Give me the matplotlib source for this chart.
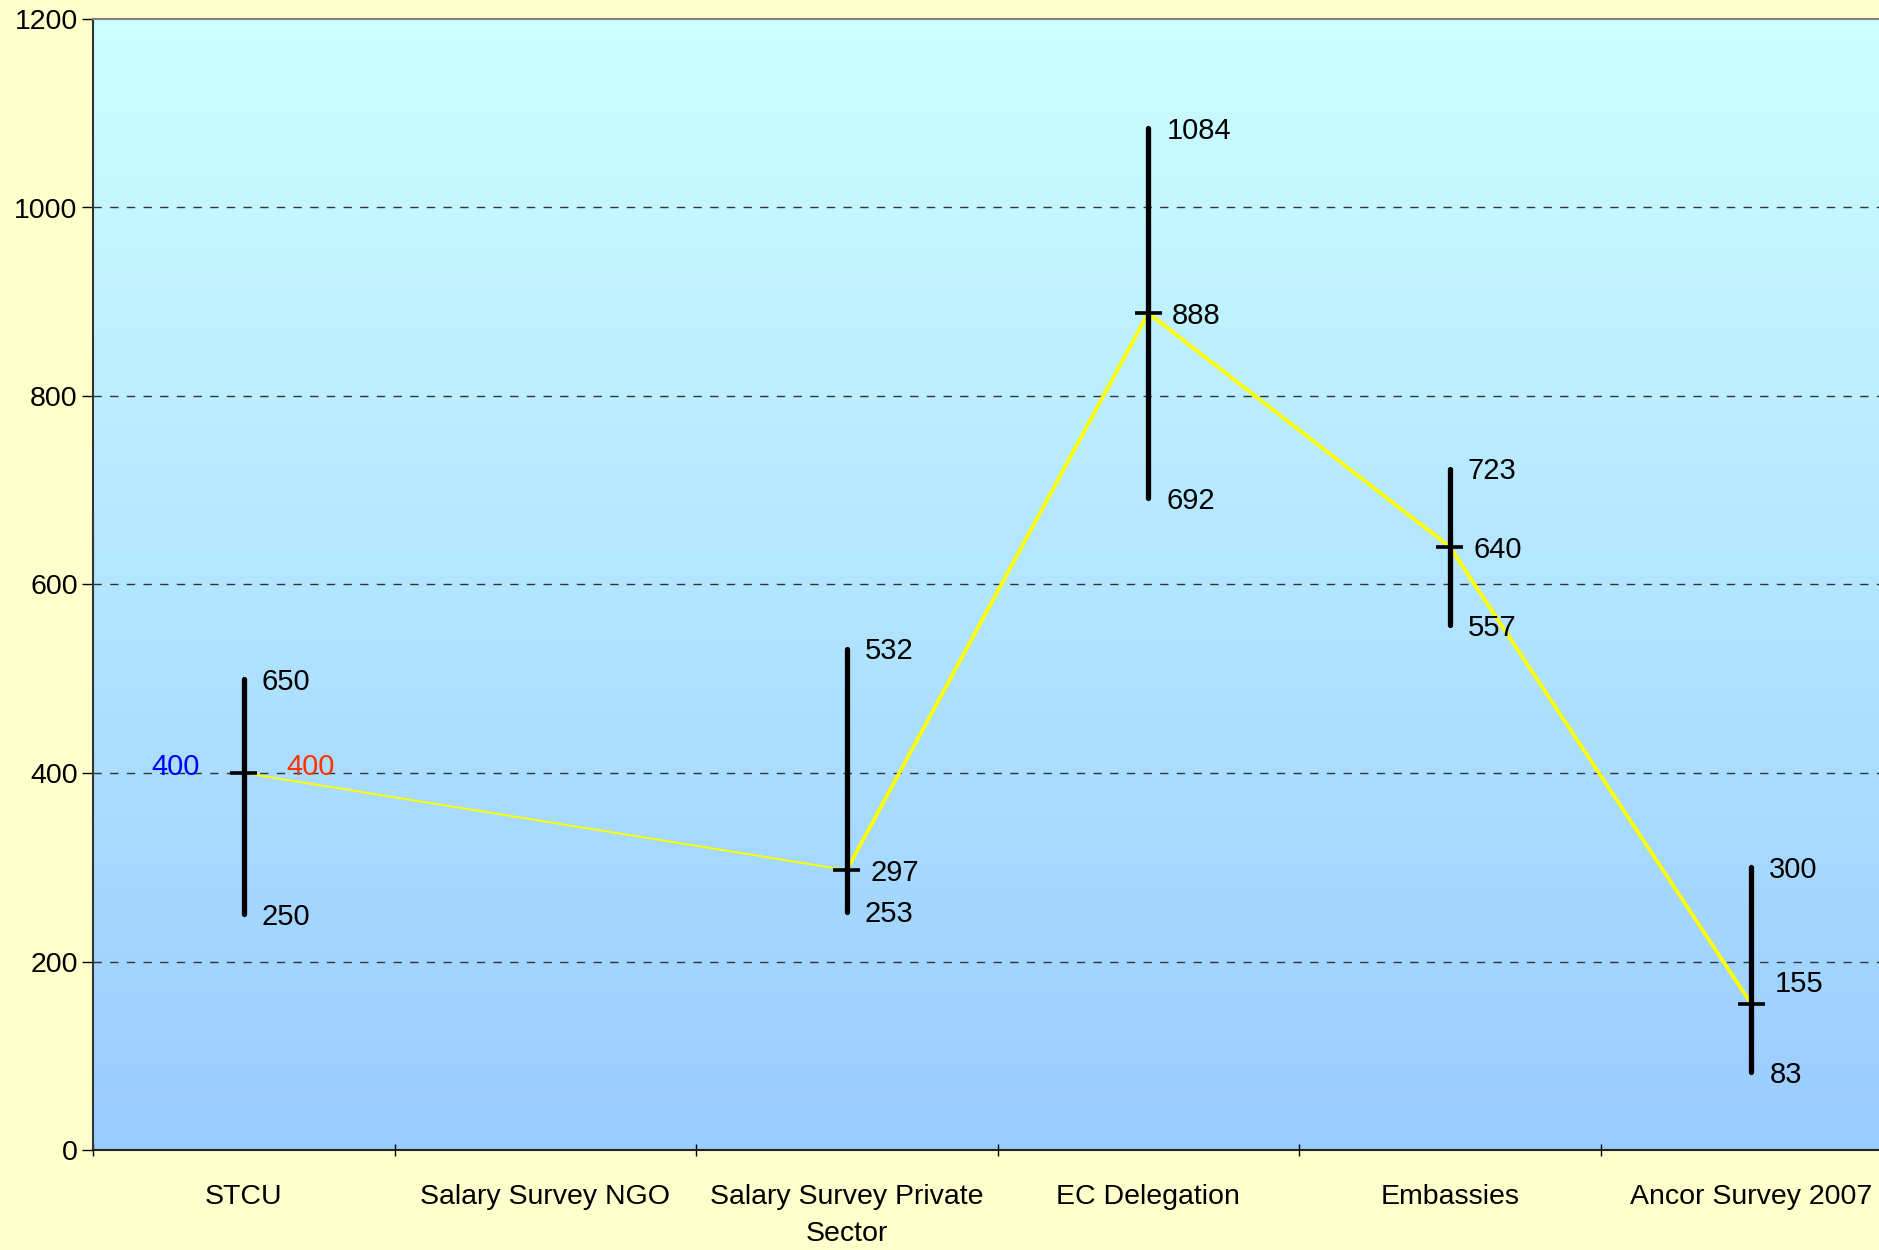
import numpy as np
import matplotlib
matplotlib.use("Agg")
import matplotlib.pyplot as plt
from matplotlib.colors import LinearSegmentedColormap

categories = ["STCU", "Salary Survey NGO", "Salary Survey Private\nSector",
              "EC Delegation", "Embassies", "Ancor Survey 2007"]
highs = [500, np.nan, 532, 1084, 723, 300]
lows = [250, np.nan, 253, 692, 557, 83]
closes = [400, np.nan, 297, 888, 640, 155]
high_labels = ["650", "", "532", "1084", "723", "300"]
low_labels = ["250", "", "253", "692", "557", "83"]
close_labels = ["", "", "297", "888", "640", "155"]
stcu_left_label = "400"
stcu_right_label = "400"
y_ticks = [0, 200, 400, 600, 800, 1000, 1200]

plt.rcParams['font.family'] = ['Liberation Sans', 'DejaVu Sans']

fig = plt.figure(figsize=(18.79, 12.5), dpi=100)
fig.patch.set_facecolor("#FFFFCC")
ax = fig.add_axes([93/1879, 100/1250, (1902-93)/1879, (1150-19)/1250])

x = np.arange(len(categories))
ax.set_xlim(-0.5, len(categories) - 0.5)
ax.set_ylim(0, 1200)

# gradient background
cmap = LinearSegmentedColormap.from_list("bg", ["#99CCFF", "#CCFFFF"])
grad = np.linspace(0, 1, 256).reshape(-1, 1)
ax.imshow(grad, extent=(-0.5, len(categories) - 0.5, 0, 1200), origin="lower",
          aspect="auto", cmap=cmap, zorder=0)

# grid
for yv in y_ticks[1:-1]:
    ax.axhline(yv, color="#333333", lw=1.0, ls=(0, (6, 6)), zorder=1)

# yellow connecting line (skipping missing)
valid = [i for i in range(len(categories)) if not np.isnan(closes[i])]
xv = [x[i] for i in valid]
cv = [closes[i] for i in valid]
ax.plot(xv[:2], cv[:2], color="#FFFF00", lw=1.4, zorder=2, solid_capstyle="butt")
ax.plot(xv[1:], cv[1:], color="#FFFF00", lw=2.7, zorder=2, solid_capstyle="butt")

FS = 21
# hi-low bars and close ticks
for i in valid:
    ax.plot([x[i], x[i]], [lows[i], highs[i]], color="black", lw=3.8,
            solid_capstyle="round", zorder=3)
    ax.plot([x[i] - 0.045, x[i] + 0.045], [closes[i], closes[i]], color="black",
            lw=2.6, solid_capstyle="butt", zorder=3)
    ax.annotate(high_labels[i], (x[i], highs[i]), xytext=(13, -2),
                textcoords="offset points", va="center", ha="left", fontsize=FS)
    ax.annotate(low_labels[i], (x[i], lows[i]), xytext=(13, -2),
                textcoords="offset points", va="center", ha="left", fontsize=FS)
    if close_labels[i]:
        dy = 14 if i == len(categories) - 1 else -2
        ax.annotate(close_labels[i], (x[i], closes[i]), xytext=(17, dy),
                    textcoords="offset points", va="center", ha="left", fontsize=FS)

ax.annotate(stcu_left_label, (x[0], closes[0]), xytext=(-32, 4),
            textcoords="offset points", va="center", ha="right",
            fontsize=FS, color="#0000FF")
ax.annotate(stcu_right_label, (x[0], closes[0]), xytext=(31, 4),
            textcoords="offset points", va="center", ha="left",
            fontsize=FS, color="#FF3300")

# axes styling
ax.set_yticks(y_ticks)
ax.set_yticklabels([str(v) for v in y_ticks], fontsize=20.5)
ax.tick_params(axis="y", length=8, width=1, direction="out", pad=3)
ax.set_xticks(np.arange(-0.5, len(categories) - 0.5, 1.0))
ax.set_xticklabels([])
ax.tick_params(axis="x", length=8, width=1, direction="inout")
for i, c in enumerate(categories):
    ax.text(x[i], -36, c, ha="center", va="top", fontsize=20.5, linespacing=1.55)

ax.spines["left"].set_color("#333333")
ax.spines["left"].set_linewidth(1.5)
ax.spines["bottom"].set_color("#222222")
ax.spines["bottom"].set_linewidth(1.5)
ax.spines["top"].set_color("#808080")
ax.spines["top"].set_linewidth(1.5)
ax.spines["right"].set_visible(False)

fig.savefig("out.png", dpi=100, facecolor=fig.get_facecolor())
